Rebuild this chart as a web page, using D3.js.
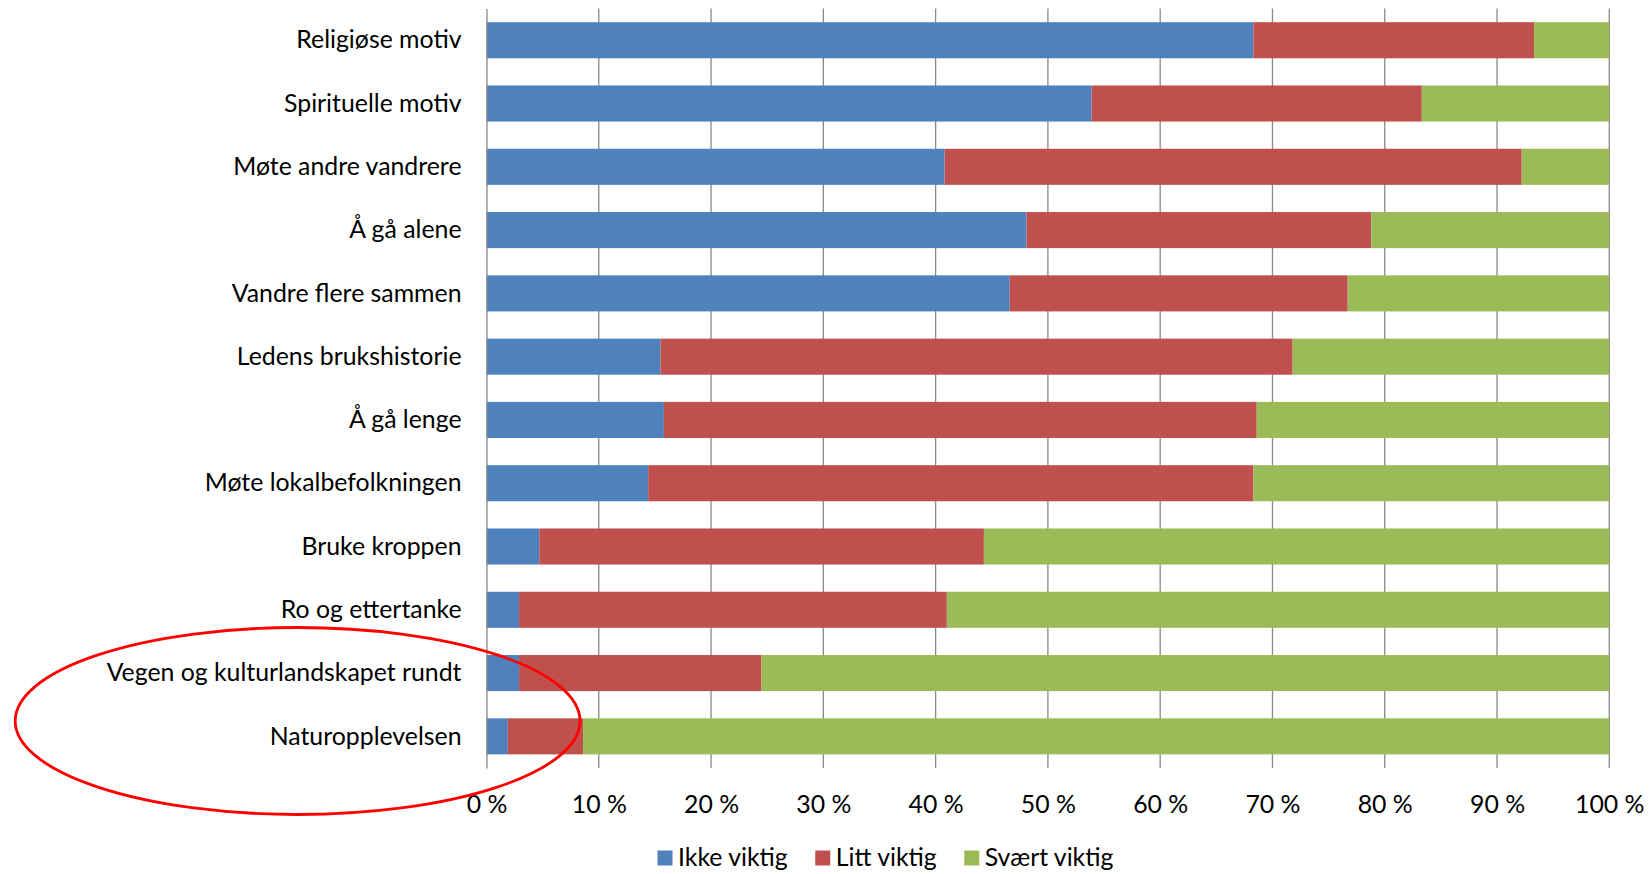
<!DOCTYPE html>
<html>
<head>
<meta charset="utf-8">
<script src="https://cdn.jsdelivr.net/npm/d3@7"></script>
<style>
  html, body { margin: 0; padding: 0; background: #fff; }
  svg { display: block; }
</style>
</head>
<body>
<svg id="chart" width="1650" height="874"></svg>
<script>
const categories = ["Religiøse motiv", "Spirituelle motiv", "Møte andre vandrere", "Å gå alene",
  "Vandre flere sammen", "Ledens brukshistorie", "Å gå lenge", "Møte lokalbefolkningen",
  "Bruke kroppen", "Ro og ettertanke", "Vegen og kulturlandskapet rundt", "Naturopplevelsen"];
const ikkeViktig  = [68.3, 53.9, 40.8, 48.1, 46.6, 15.5, 15.8, 14.4, 4.7, 2.9, 2.9, 1.9];
const littViktig  = [25.0, 29.4, 51.4, 30.7, 30.1, 56.3, 52.8, 53.9, 39.6, 38.1, 21.6, 6.7];
const svaertViktig = [6.7, 16.7, 7.8, 21.2, 23.3, 28.2, 31.4, 31.7, 55.7, 59.0, 75.5, 91.4];
const seriesNames = ["Ikke viktig", "Litt viktig", "Svært viktig"];
const seriesColors = ["#4F81BD", "#C0504D", "#9BBB59"];
const tickValues = [0, 10, 20, 30, 40, 50, 60, 70, 80, 90, 100];

(function () {
const rows = categories.map((c, i) => ({
  cat: c, "Ikke viktig": ikkeViktig[i], "Litt viktig": littViktig[i], "Svært viktig": svaertViktig[i]
}));

const svg = d3.select("#chart");
const FONT = "Lato, 'Open Sans', sans-serif";

// fit font so the longest label matches reference width (~355px)
const probe = svg.append("text").attr("font-family", FONT).attr("font-size", 100)
  .text("Vegen og kulturlandskapet rundt");
const w100 = probe.node().getComputedTextLength();
probe.remove();
const fs = Math.min(28, 100 * 355 / w100);

const pLeft = 486.5, pRight = 1609.3, pTop = 8.6, pBottom = 768;
const x = d3.scaleLinear().domain([0, 100]).range([pLeft, pRight]);
const y = d3.scaleBand().domain(categories).range([pTop, pBottom])
  .paddingInner(0.43).paddingOuter(0.215);

const gridColor = "#898989";

// gridlines
svg.append("g").selectAll("line").data(tickValues.slice(1)).join("line")
  .attr("x1", d => x(d)).attr("x2", d => x(d))
  .attr("y1", pTop).attr("y2", pBottom)
  .attr("stroke", gridColor).attr("stroke-width", 1.3);

// stacked bars
const stack = d3.stack().keys(seriesNames)(rows);
svg.append("g").selectAll("g").data(stack).join("g")
  .attr("fill", (d, i) => seriesColors[i])
  .selectAll("rect").data(d => d).join("rect")
  .attr("x", d => x(d[0]))
  .attr("width", d => x(d[1]) - x(d[0]))
  .attr("y", d => y(d.data.cat))
  .attr("height", y.bandwidth());

// left axis
const yAxis = svg.append("g").attr("transform", `translate(${pLeft},0)`)
  .call(d3.axisLeft(y).tickSize(0).tickSizeOuter(0).tickPadding(25));
yAxis.select(".domain").attr("stroke", gridColor).attr("stroke-width", 1.3);
yAxis.selectAll("text").attr("font-family", FONT).attr("font-size", fs)
  .attr("fill", "#000").attr("dy", "0.33em");

// bottom axis labels
const xAxis = svg.append("g").attr("transform", `translate(0,${pBottom})`)
  .call(d3.axisBottom(x).tickValues(tickValues).tickFormat(d => d + " %").tickSize(0).tickPadding(27));
xAxis.select(".domain").remove();
xAxis.selectAll("text").attr("font-family", FONT).attr("font-size", fs).attr("fill", "#000");

// legend
const legend = svg.append("g").attr("transform", "translate(657.5,858)");
let lx = 0;
seriesNames.forEach((name, i) => {
  const g = legend.append("g").attr("transform", `translate(${lx},0)`);
  g.append("rect").attr("x", 0).attr("y", -7.5).attr("width", 15).attr("height", 15)
    .attr("fill", seriesColors[i]);
  const t = g.append("text").attr("x", 20.5).attr("y", 0).attr("dy", "0.33em")
    .attr("font-family", FONT).attr("font-size", fs).attr("fill", "#000").text(name);
  lx += 20.5 + t.node().getComputedTextLength() + 27.5;
});

// red annotation ellipse
svg.append("ellipse").attr("cx", 297.6).attr("cy", 721).attr("rx", 282.4).attr("ry", 93.5)
  .attr("fill", "none").attr("stroke", "#FF0000").attr("stroke-width", 2.8);
})();
</script>
</body>
</html>
